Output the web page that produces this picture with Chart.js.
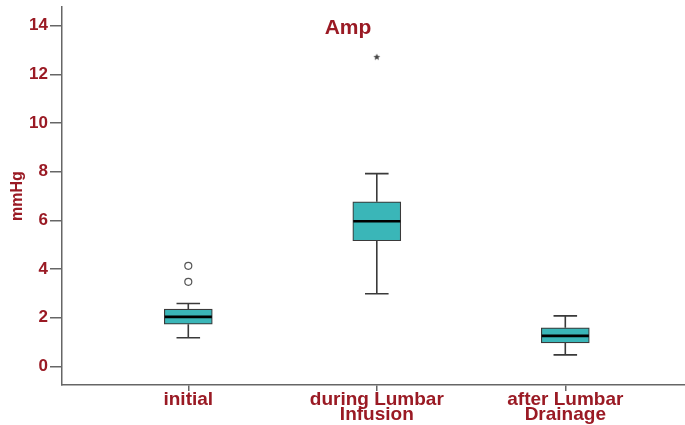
<!DOCTYPE html>
<html>
<head>
<meta charset="utf-8">
<script src="https://cdn.jsdelivr.net/npm/chart.js@4.4.1/dist/chart.umd.min.js"></script>
<style>
  html, body { margin: 0; padding: 0; background: #fff; }
  #wrap { width: 685px; height: 425px; }
</style>
</head>
<body>
<div id="wrap"><canvas id="c" width="685" height="425"></canvas></div>
<script>
// Amplitude (mmHg) per measurement phase
const categories = [["initial"], ["during Lumbar", "Infusion"], ["after Lumbar", "Drainage"]];
const whiskerLow  = [1.17, 2.98, 0.47];
const q1          = [1.73, 5.16, 0.96];
const median      = [2.03, 5.96, 1.25];
const q3          = [2.35, 6.76, 1.58];
const whiskerHigh = [2.58, 7.92, 2.07];
const outliers    = [{ group: 1, value: 4.13 }, { group: 1, value: 3.47 }];
const extremes    = [{ group: 2, value: 12.71 }];
const yTicks = [0, 2, 4, 6, 8, 10, 12, 14];

const RED = '#9a1a24';
const TEAL = '#3ab6b8';
const LINE = '#3a3a3a';
const BOX_HALF = 0.125;   // half box width in category units
const CAP_HALF = 0.0625;  // half whisker cap width

const pos = categories.map((_, i) => i + 1);

// whisker stems and caps as broken line segments
const whiskerPts = [];
pos.forEach((x, i) => {
  whiskerPts.push({ x, y: whiskerLow[i] }, { x, y: q1[i] }, { x, y: null });
  whiskerPts.push({ x, y: q3[i] }, { x, y: whiskerHigh[i] }, { x, y: null });
  whiskerPts.push({ x: x - CAP_HALF, y: whiskerHigh[i] }, { x: x + CAP_HALF, y: whiskerHigh[i] }, { x, y: null });
  whiskerPts.push({ x: x - CAP_HALF, y: whiskerLow[i] }, { x: x + CAP_HALF, y: whiskerLow[i] }, { x, y: null });
});
const medianPts = [];
pos.forEach((x, i) => {
  medianPts.push({ x: x - BOX_HALF, y: median[i] }, { x: x + BOX_HALF, y: median[i] }, { x, y: null });
});

// small filled five-point star marker for extreme values
function starMarker(r) {
  const c = document.createElement('canvas');
  const s = Math.ceil(r * 2 + 2);
  c.width = s; c.height = s;
  const g = c.getContext('2d');
  g.translate(s / 2, s / 2);
  g.beginPath();
  for (let k = 0; k < 10; k++) {
    const rad = k % 2 === 0 ? r : r * 0.45;
    const a = -Math.PI / 2 + k * Math.PI / 5;
    g.lineTo(rad * Math.cos(a), rad * Math.sin(a));
  }
  g.closePath();
  g.fillStyle = '#444';
  g.fill();
  return c;
}

const titlePlugin = {
  id: 'ampTitle',
  afterDraw(chart) {
    const ctx = chart.ctx;
    ctx.save();
    ctx.font = 'bold 21px "Liberation Sans", Arial, sans-serif';
    ctx.fillStyle = RED;
    ctx.textAlign = 'center';
    ctx.textBaseline = 'middle';
    ctx.fillText('Amp', 348, 28);
    ctx.restore();
  }
};

new Chart(document.getElementById('c'), {
  type: 'scatter',
  data: {
    datasets: [
      {
        type: 'bar',
        data: pos.map((x, i) => ({ x, y: [q1[i], q3[i]] })),
        backgroundColor: TEAL,
        borderColor: LINE,
        borderWidth: 1.2,
        borderSkipped: false,
        barThickness: 48,
        grouped: false,
        order: 2
      },
      {
        type: 'scatter',
        data: whiskerPts,
        showLine: true,
        spanGaps: false,
        borderColor: LINE,
        borderWidth: 1.6,
        pointRadius: 0,
        order: 3
      },
      {
        type: 'scatter',
        data: medianPts,
        showLine: true,
        spanGaps: false,
        borderColor: '#000',
        borderWidth: 2.6,
        pointRadius: 0,
        order: 1
      },
      {
        type: 'scatter',
        data: outliers.map(o => ({ x: o.group, y: o.value })),
        pointStyle: 'circle',
        pointRadius: 3.5,
        backgroundColor: '#fff',
        borderColor: '#555',
        borderWidth: 1.2,
        order: 0
      },
      {
        type: 'scatter',
        data: extremes.map(o => ({ x: o.group, y: o.value })),
        pointStyle: starMarker(3.6),
        pointRadius: 4,
        order: 0
      }
    ]
  },
  options: {
    responsive: false,
    animation: false,
    events: [],
    layout: { autoPadding: false, padding: { top: 7, right: 0, left: 0, bottom: 0 } },
    plugins: { legend: { display: false }, tooltip: { enabled: false }, title: { display: false } },
    scales: {
      x: {
        type: 'linear',
        offset: false,
        min: 0.33,
        max: 3.635,
        afterBuildTicks(scale) { scale.ticks = pos.map(v => ({ value: v })); },
        afterFit(scale) { scale.height = 40; scale.paddingLeft = 0; scale.paddingRight = 0; },
        grid: { offset: false, drawOnChartArea: false, drawTicks: true, tickLength: 6, color: '#666', lineWidth: 1.5 },
        border: { display: true, color: '#666', width: 1.5 },
        ticks: {
          autoSkip: false,
          maxRotation: 0,
          padding: 1,
          color: RED,
          font: { family: '"Liberation Sans", Arial, sans-serif', size: 19, weight: 'bold', lineHeight: 0.8 },
          callback: (v) => categories[Math.round(v) - 1]
        }
      },
      y: {
        min: -0.77,
        max: 14.77,
        afterBuildTicks(scale) { scale.ticks = yTicks.map(v => ({ value: v })); },
        afterFit(scale) { scale.width = 62; scale.paddingTop = 0; scale.paddingBottom = 0; },
        grid: { drawOnChartArea: false, drawTicks: true, tickLength: 12, color: '#666', lineWidth: 1.5 },
        border: { display: true, color: '#666', width: 1.5 },
        ticks: {
          padding: 2,
          color: RED,
          font: { family: '"Liberation Sans", Arial, sans-serif', size: 17, weight: 'bold' }
        },
        title: {
          display: true,
          text: 'mmHg',
          color: RED,
          padding: { top: 8, bottom: 0 },
          font: { family: '"Liberation Sans", Arial, sans-serif', size: 16, weight: 'bold' }
        }
      }
    }
  },
  plugins: [titlePlugin]
});
</script>
</body>
</html>
